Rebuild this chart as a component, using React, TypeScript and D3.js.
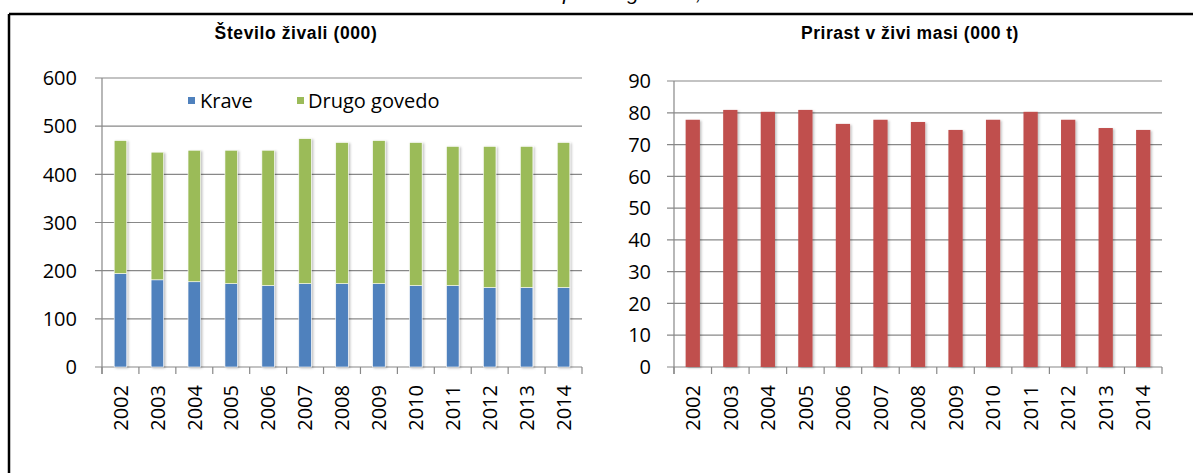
import React from "react";
import * as d3 from "d3";

const years = ["2002","2003","2004","2005","2006","2007","2008","2009","2010","2011","2012","2013","2014"];
const krave = [194, 181, 177, 173, 169, 173, 173, 173, 169, 169, 165, 165, 165];
const drugoGovedo = [276, 265, 273, 277, 281, 301, 293, 297, 297, 289, 293, 293, 301];
const prirast = [77.8, 80.9, 80.3, 80.9, 76.5, 77.8, 77.1, 74.6, 77.8, 80.3, 77.8, 75.2, 74.6];
const leftTicks = [0, 100, 200, 300, 400, 500, 600];
const rightTicks = [0, 10, 20, 30, 40, 50, 60, 70, 80, 90];
const leftTitle = "Število živali (000)";
const rightTitle = "Prirast v živi masi (000 t)";
const legendLabels = ["Krave", "Drugo govedo"];
const topCaption = "Staleži in prirast goveda, 2002–2014";

const W = 1193, H = 473;
const BLUE = "#4F81BD", GREEN = "#9BBB59", RED = "#C0504D";
const GRID = "#888888";
const FONT = "'Open Sans', sans-serif";
const TFONT = "'Liberation Sans', Arial, sans-serif";
const FS = 20;

export default function App() {
  const xL = d3.scaleBand<string>().domain(years).range([102, 582]).padding(0);
  const yL = d3.scaleLinear().domain([0, 600]).range([367, 78]);
  const xR = d3.scaleBand<string>().domain(years).range([674, 1162]).padding(0);
  const yR = d3.scaleLinear().domain([0, 90]).range([367, 81]);

  const stack = d3.stack<any>().keys(["krave", "drugo"])(
    years.map((y, i) => ({ year: y, krave: krave[i], drugo: drugoGovedo[i] }))
  );
  const colors = [BLUE, GREEN];
  const bwL = xL.step() * 0.34;
  const bwR = xR.step() * 0.38;

  const axisParts = (x: d3.ScaleBand<string>, y: d3.ScaleLinear<number, number>, ticks: number[], labelX: number) => {
    const [x0, x1] = x.range();
    const bounds = years.map((yr) => x(yr) as number).concat([x1]);
    return (
      <g>
        {ticks.map((t) => (
          <g key={t}>
            <line x1={x0 - 7} x2={x1} y1={y(t)} y2={y(t)} stroke={GRID} strokeWidth={1.2} />
            <text x={labelX} y={y(t)} dy="0.36em" textAnchor="end" fontFamily={FONT} fontSize={FS} fill="#000">{t}</text>
          </g>
        ))}
        <line x1={x0} x2={x0} y1={y(ticks[ticks.length - 1])} y2={y(0) + 7} stroke={GRID} strokeWidth={1.2} />
        {bounds.map((b, i) => (
          <line key={i} x1={b} x2={b} y1={y(0)} y2={y(0) + 7} stroke={GRID} strokeWidth={1.2} />
        ))}
        {years.map((yr) => {
          const cx = (x(yr) as number) + x.step() / 2;
          return (
            <text key={yr} transform={`translate(${cx},385) rotate(-90)`} dy="0.36em" textAnchor="end" fontFamily={FONT} fontSize={FS} fill="#000">{yr}</text>
          );
        })}
      </g>
    );
  };

  return (
    <svg width={W} height={H} viewBox={`0 0 ${W} ${H}`} style={{ position: "absolute", left: 0, top: 0, background: "#fff" }}>
      <defs>
        <filter id="sh" x="-50%" y="-10%" width="200%" height="120%">
          <feDropShadow dx="1.5" dy="1" stdDeviation="1.2" floodColor="#000" floodOpacity="0.25" />
        </filter>
      </defs>
      <rect x={0} y={0} width={W} height={H} fill="#fff" />
      <text x={472} y={0} fontFamily={TFONT} fontStyle="italic" fontSize={21} fill="#000">{topCaption}</text>
      <line x1={9} x2={W} y1={14} y2={14} stroke="#000" strokeWidth={2.5} />
      <line x1={9} x2={9} y1={14} y2={H} stroke="#000" strokeWidth={2.5} />

      <text x={296} y={39} textAnchor="middle" fontFamily={TFONT} fontWeight="bold" fontSize={17.5} letterSpacing={0.6}>{leftTitle}</text>
      <text x={910} y={39} textAnchor="middle" fontFamily={TFONT} fontWeight="bold" fontSize={17.5} letterSpacing={0.5}>{rightTitle}</text>

      {axisParts(xL, yL, leftTicks, 77)}
      {axisParts(xR, yR, rightTicks, 651)}

      <g filter="url(#sh)">
        {stack.map((s, si) => (
          <g key={si}>
            {s.map((d, i) => (
              <rect key={i} x={(xL(years[i]) as number) + xL.step() / 2 - bwL / 2} y={yL(d[1])} width={bwL} height={yL(d[0]) - yL(d[1])} fill={colors[si]} stroke="#fff" strokeWidth={0.6} />
            ))}
          </g>
        ))}
      </g>

      <g filter="url(#sh)">
        {prirast.map((v, i) => (
          <rect key={i} x={(xR(years[i]) as number) + xR.step() / 2 - bwR / 2} y={yR(v)} width={bwR} height={yR(0) - yR(v)} fill={RED} />
        ))}
      </g>

      <g>
        <rect x={188} y={97} width={7} height={7} fill={BLUE} />
        <text x={200} y={101} dy="0.36em" fontFamily={FONT} fontSize={FS}>{legendLabels[0]}</text>
        <rect x={297} y={97} width={7} height={7} fill={GREEN} />
        <text x={308} y={101} dy="0.36em" fontFamily={FONT} fontSize={FS}>{legendLabels[1]}</text>
      </g>
    </svg>
  );
}
